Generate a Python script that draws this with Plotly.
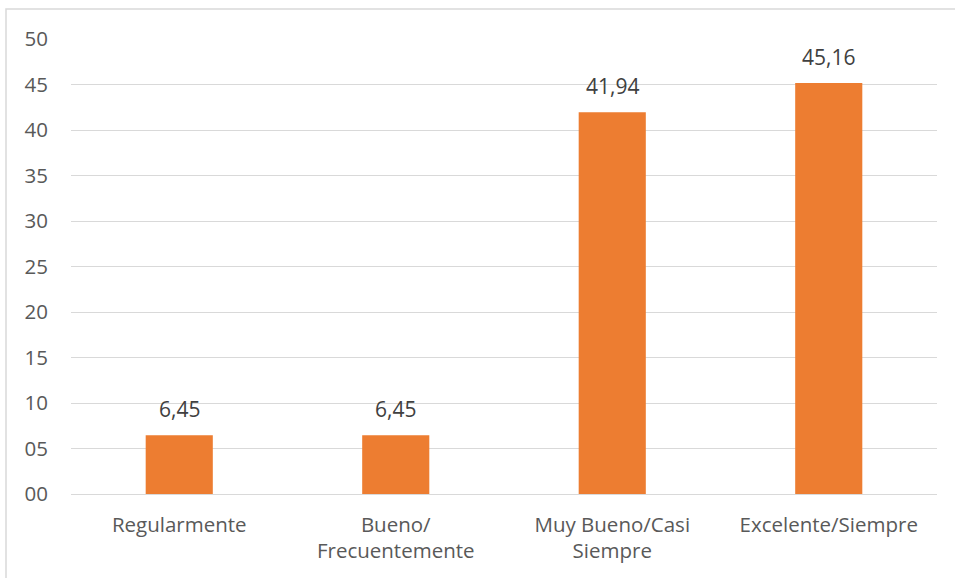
import plotly.graph_objects as go

categories = ["Regularmente", "Bueno/<br>Frecuentemente", "Muy Bueno/Casi<br>Siempre", "Excelente/Siempre"]
values = [6.45, 6.45, 41.94, 45.16]
y_ticks = [0, 5, 10, 15, 20, 25, 30, 35, 40, 45, 50]

W, H = 955, 578
L, R, T, B = 71, 18, 39, 84
pw, ph = W - L - R, H - T - B
FONT = "Open Sans, Liberation Sans, sans-serif"

fig = go.Figure(go.Bar(
    x=categories,
    y=values,
    marker=dict(color="#ED7D31", line=dict(width=0)),
    width=0.31,
))

# value labels above each bar
for c, v in zip(categories, values):
    fig.add_annotation(
        x=c, y=v, text=f"{v:.2f}".replace(".", ","),
        showarrow=False, yshift=26, yanchor="middle",
        font=dict(family=FONT, size=21, color="#404040"),
    )

# light frame around the whole chart area
fig.add_shape(
    type="rect", xref="paper", yref="paper",
    x0=(6 - L) / pw, x1=(W + 5 - L) / pw,
    y0=-(H + 5 - (H - B)) / ph, y1=(H - B - 9) / ph,
    line=dict(color="#d9d9d9", width=1.5), fillcolor="rgba(0,0,0,0)", layer="below",
)

fig.update_layout(
    width=W, height=H,
    margin=dict(l=L, r=R, t=T, b=B),
    paper_bgcolor="white", plot_bgcolor="white",
    showlegend=False,
    font=dict(family=FONT, size=20, color="#595959"),
    xaxis=dict(
        showgrid=False, showline=False, zeroline=False,
        tickfont=dict(family=FONT, size=20.5, color="#595959"),
        ticks="", ticklen=0, ticklabelstandoff=16,
    ),
    yaxis=dict(
        range=[0, 50], tickvals=y_ticks, tickformat="02d",
        showgrid=True, gridcolor="#d9d9d9", gridwidth=1.3,
        zeroline=True, zerolinecolor="#d9d9d9", zerolinewidth=1.3,
        showline=False, ticks="", ticklabelstandoff=22,
        tickfont=dict(family=FONT, size=20.5, color="#595959"),
    ),
    bargap=0.69,
)

fig.write_html("out.html")
